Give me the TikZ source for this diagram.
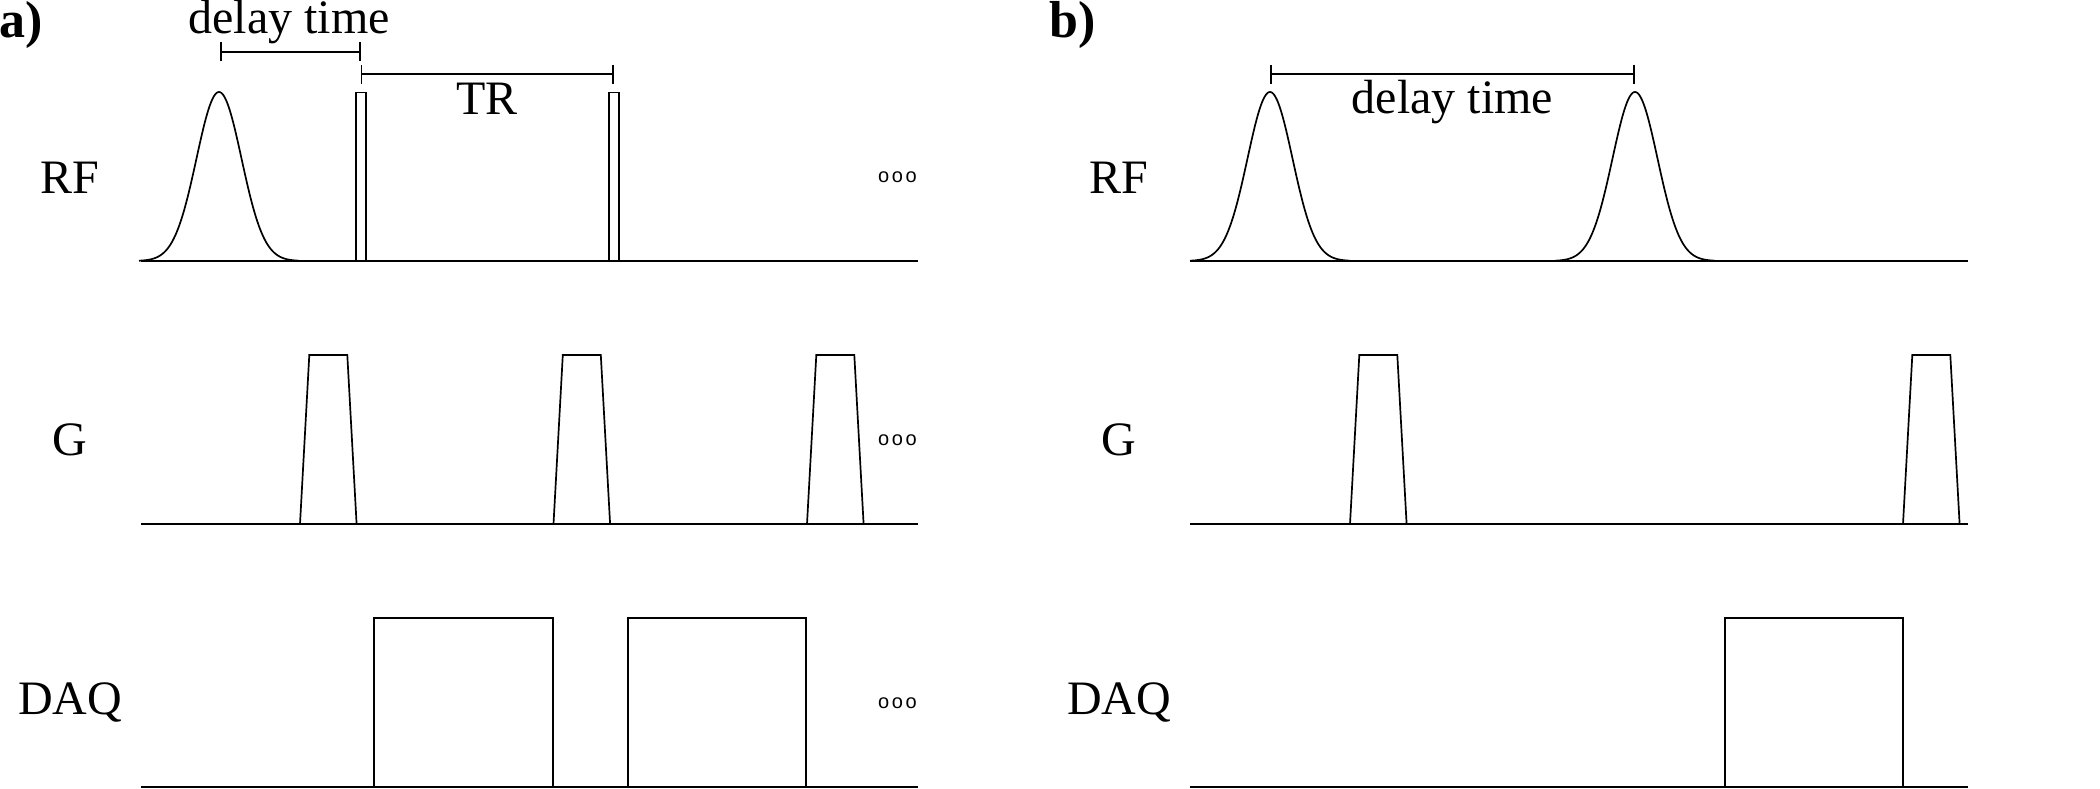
\documentclass[tikz,border=0pt]{standalone}
\usepackage{fontspec}
\setmainfont{Liberation Serif}
\newfontfamily\dotsfont{Liberation Sans}
\usetikzlibrary{arrows.meta}
\begin{document}
\begin{tikzpicture}[x=1pt,y=-1pt,
  axisline/.style={line width=2.2pt},
  wave/.style={line width=1.7pt, line join=miter},
  dim/.style={line width=1.9pt, {Bar[width=19pt]}-{Bar[width=19pt]}},
  lab/.style={font=\fontsize{48}{56}\selectfont, anchor=base, inner sep=0pt},
  panel/.style={font=\fontsize{52}{60}\selectfont\bfseries, anchor=base west, inner sep=0pt},
  more/.style={font=\dotsfont\fontsize{20}{24}\selectfont, anchor=base, inner sep=0pt}]
\useasboundingbox (0,0) rectangle (2100,788);

% ---------------- panel a ----------------
\node[panel] (pa) at (-1,37) {a)};
\node[lab] (rfa) at (70,193) {RF};
\node[lab] (ga) at (70,455) {G};
\node[lab] (daqa) at (70,714) {DAQ};

% baselines
\coordinate (ra0) at (141,261); \coordinate (ra1) at (918,261);
\coordinate (ga0) at (141,524); \coordinate (ga1) at (918,524);
\coordinate (da0) at (141,787); \coordinate (da1) at (918,787);
\draw[axisline] (ra0) -- (ra1);
\draw[axisline] (ga0) -- (ga1);
\draw[axisline] (da0) -- (da1);

% RF
\draw[wave] plot[domain=-80:80, samples=121, smooth] ({219+\x},{261-169*exp(-(\x*\x)/1012.5)});
\draw[wave] (356,261) -- (356,92.5) -- (366,92.5) -- (366,261);
\draw[wave] (609,261) -- (609,92.5) -- (619,92.5) -- (619,261);

% G trapezoids
\foreach \s in {300,553.5,807}{
  \draw[wave] (\s,524) -- ({\s+9.3},355) -- ({\s+47.3},355) -- ({\s+56.6},524);
}

% DAQ boxes
\draw[wave] (374,787) -- (374,617.7) -- (553,617.7) -- (553,787);
\draw[wave] (628,787) -- (628,617.7) -- (806,617.7) -- (806,787);

% brackets
\coordinate (dl0) at (220,51.7); \coordinate (dl1) at (360.5,51.7);
\draw[dim] (dl0) -- (dl1);
\node[lab] (dlt) at (289,33.5) {delay time};
\coordinate (tr0) at (360.5,74); \coordinate (tr1) at (614,74);
\draw[dim] (tr0) -- (tr1);
\node[lab] (trt) at (487,114) {TR};

% continuation marks
\node[more] (mra) at (897.5,182) {o\hspace{2.6pt}o\hspace{2.6pt}o};
\node[more] (mga) at (897.5,445) {o\hspace{2.6pt}o\hspace{2.6pt}o};
\node[more] (mda) at (897.5,708) {o\hspace{2.6pt}o\hspace{2.6pt}o};

% ---------------- panel b ----------------
\node[panel] (pb) at (1049,37) {b)};
\node[lab] (rfb) at (1119,193) {RF};
\node[lab] (gb) at (1119,455) {G};
\node[lab] (daqb) at (1119,714) {DAQ};

\coordinate (rb0) at (1190,261); \coordinate (rb1) at (1968,261);
\coordinate (gb0) at (1190,524); \coordinate (gb1) at (1968,524);
\coordinate (db0) at (1190,787); \coordinate (db1) at (1968,787);
\draw[axisline] (rb0) -- (rb1);
\draw[axisline] (gb0) -- (gb1);
\draw[axisline] (db0) -- (db1);

\draw[wave] plot[domain=-80:80, samples=121, smooth] ({1270+\x},{261-169*exp(-(\x*\x)/1012.5)});
\draw[wave] plot[domain=-80:80, samples=121, smooth] ({1635+\x},{261-169*exp(-(\x*\x)/1012.5)});

\foreach \s in {1350,1903}{
  \draw[wave] (\s,524) -- ({\s+9.3},355) -- ({\s+47.3},355) -- ({\s+56.6},524);
}

\draw[wave] (1725,787) -- (1725,617.7) -- (1903,617.7) -- (1903,787);

\coordinate (db0t) at (1270,74); \coordinate (db1t) at (1635,74);
\draw[dim] (db0t) -- (db1t);
\node[lab] (dbt) at (1452.5,113) {delay time};
\end{tikzpicture}
\end{document}
